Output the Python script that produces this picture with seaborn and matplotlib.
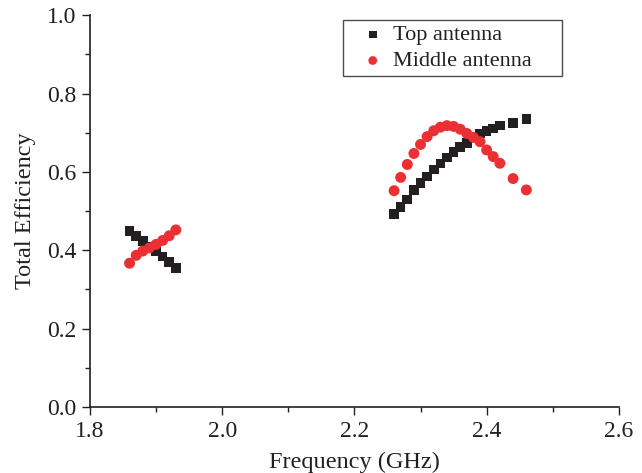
import matplotlib
matplotlib.use("Agg")
import matplotlib.pyplot as plt
import seaborn as sns
import pandas as pd
from matplotlib.ticker import MultipleLocator

# Data
top_freq = [1.86, 1.87, 1.88, 1.89, 1.90, 1.91, 1.92, 1.93,
            2.26, 2.27, 2.28, 2.29, 2.30, 2.31, 2.32, 2.33, 2.34, 2.35,
            2.36, 2.37, 2.38, 2.39, 2.40, 2.41, 2.42, 2.44, 2.46]
top_eff = [0.449, 0.437, 0.424, 0.410, 0.397, 0.384, 0.370, 0.355,
           0.492, 0.511, 0.530, 0.553, 0.571, 0.588, 0.606, 0.621, 0.637, 0.651,
           0.664, 0.674, 0.688, 0.698, 0.705, 0.711, 0.718, 0.725, 0.735]
mid_freq = [1.86, 1.87, 1.88, 1.89, 1.90, 1.91, 1.92, 1.93,
            2.26, 2.27, 2.28, 2.29, 2.30, 2.31, 2.32, 2.33, 2.34, 2.35,
            2.36, 2.37, 2.38, 2.39, 2.40, 2.41, 2.42, 2.44, 2.46]
mid_eff = [0.367, 0.387, 0.398, 0.406, 0.415, 0.425, 0.437, 0.452,
           0.552, 0.586, 0.619, 0.647, 0.670, 0.690, 0.705, 0.714, 0.718, 0.716,
           0.709, 0.698, 0.688, 0.677, 0.656, 0.639, 0.622, 0.583, 0.554]
series_names = ["Top antenna", "Middle antenna"]
x_ticks = [1.8, 2.0, 2.2, 2.4, 2.6]
y_ticks = [0.0, 0.2, 0.4, 0.6, 0.8, 1.0]

sns.set_style("ticks")
plt.rcParams['font.family'] = ['Liberation Serif', 'DejaVu Serif']

df_top = pd.DataFrame({"Frequency": top_freq, "Efficiency": top_eff})
df_mid = pd.DataFrame({"Frequency": mid_freq, "Efficiency": mid_eff})

fig = plt.figure(figsize=(6.42, 4.73), dpi=100)
ax = fig.add_axes([0.140, 0.1395, 0.824, 0.8285])

black = "#231f20"
red = "#ec2f33"

sns.scatterplot(data=df_top, x="Frequency", y="Efficiency", marker="s", s=48,
                color=black, edgecolor="none", linewidth=0, ax=ax, label=series_names[0])
sns.scatterplot(data=df_mid, x="Frequency", y="Efficiency", marker="o", s=62,
                color=red, edgecolor="none", linewidth=0, ax=ax, label=series_names[1])

ax.set_xlim(1.8, 2.6)
ax.set_ylim(0.0, 1.0)
ax.set_xticks(x_ticks)
ax.set_yticks(y_ticks)
ax.set_xticklabels([f"{v:.1f}" for v in x_ticks])
ax.set_yticklabels([f"{v:.1f}" for v in y_ticks])
ax.xaxis.set_minor_locator(MultipleLocator(0.1))
ax.yaxis.set_minor_locator(MultipleLocator(0.1))
ax.tick_params(axis="both", which="major", direction="out", length=6, width=1,
               labelsize=17, colors="#231f20", labelcolor="#231f20")
ax.tick_params(axis="x", which="major", pad=4)
ax.tick_params(axis="y", which="major", pad=3.5)
ax.tick_params(axis="both", which="minor", direction="out", length=3.5, width=1,
               colors="#231f20")
ax.set_xlabel("Frequency (GHz)", fontsize=17.5, color="#231f20", labelpad=7)
ax.set_ylabel("Total Efficiency", fontsize=17.5, color="#231f20", labelpad=8)

for side in ["top", "right"]:
    ax.spines[side].set_visible(False)
for side in ["left", "bottom"]:
    ax.spines[side].set_color("#231f20")
    ax.spines[side].set_linewidth(1.2)

leg = ax.legend(loc="upper left", bbox_to_anchor=(0.478, 0.5, 0.414, 0.487),
                mode="expand", borderaxespad=0, frameon=True, fancybox=False,
                fontsize=16, handletextpad=-0.25, borderpad=0.2, labelspacing=0.25,
                markerscale=0.8, handlelength=2.3)
leg.get_frame().set_edgecolor("#231f20")
leg.get_frame().set_linewidth(1.0)
for t in leg.get_texts():
    t.set_color("#231f20")

fig.savefig("out.png", dpi=100)
